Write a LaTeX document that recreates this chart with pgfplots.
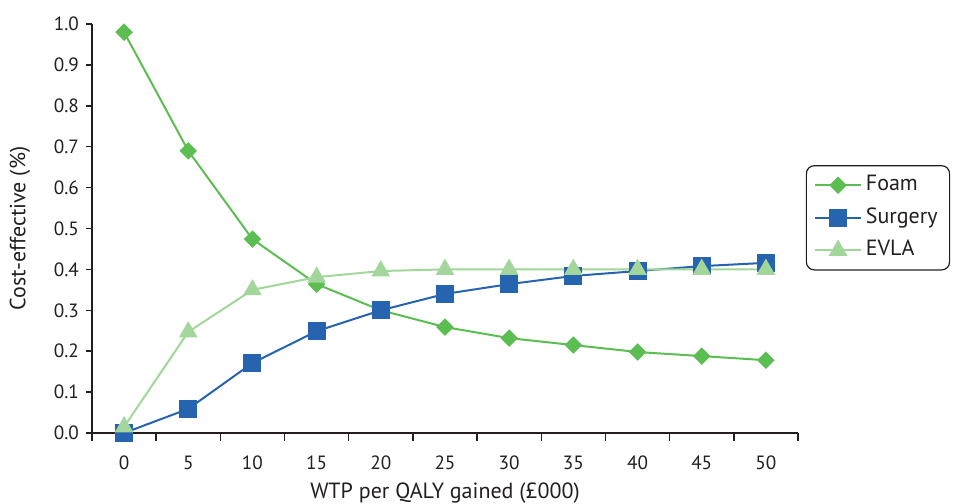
\documentclass[border=0pt]{standalone}
\usepackage{pgfplots}
\pgfplotsset{compat=1.18}
\usepackage{fontspec}
\setmainfont{PT Sans}
\definecolor{foam}{HTML}{5CBD53}
\definecolor{surg}{HTML}{2664AF}
\definecolor{evla}{HTML}{A2D69A}
\definecolor{axc}{HTML}{231F20}
\begin{document}
\begin{tikzpicture}
\begin{axis}[
  scale only axis, width=353pt, height=204.5pt,
  xmin=-0.5, xmax=10.5, ymin=0, ymax=1,
  axis x line=bottom, axis y line=left,
  axis line style={-, axc, line width=0.75pt},
  every tick/.style={axc, line width=0.75pt},
  tick align=outside,
  xtick={0,...,10},
  xticklabels={0,5,10,15,20,25,30,35,40,45,50},
  major x tick style={draw=none},
  minor xtick={-0.5,0.5,...,10.5},
  minor tick length=4pt,
  major tick length=3pt,
  ytick={0,0.1,...,1.0},
  yticklabel style={/pgf/number format/.cd, fixed, fixed zerofill, precision=1},
  /pgf/number format/assume math mode=true,
  xticklabel style={yshift=-5pt},
  tick label style={font=\fontsize{9.6}{11}\selectfont, text=axc},
  xlabel={WTP per QALY gained (£000)},
  ylabel={Cost-effective (\%)},
  label style={font=\fontsize{11}{13}\selectfont, text=axc},
  xlabel style={at={(axis description cs:0.5,-0.159)}, anchor=base},
  ylabel style={at={(axis description cs:-0.102,0.5)}, anchor=center},
  clip=false,
  legend style={at={(1.011,0.655)}, anchor=north west, draw=axc, line width=0.6pt,
    rounded corners=4pt, font=\fontsize{11}{13}\selectfont, text=axc,
    row sep=3.8pt, inner xsep=4pt, inner ysep=3.5pt,
    nodes={text height=8pt, text depth=2.5pt, inner ysep=1pt, inner xsep=2pt}},
  legend cell align=left,
  legend image code/.code={\draw[#1, mark repeat=2, mark phase=2] plot coordinates {(0cm,0cm) (0.4cm,0cm) (0.8cm,0cm)};},
]
\addplot[color=foam, line width=1pt, mark=square*, mark size=2.6pt, mark options={rotate=45, fill=foam, draw=foam}]
 coordinates {(0,0.98) (1,0.69) (2,0.474) (3,0.364) (4,0.30) (5,0.259) (6,0.232) (7,0.215) (8,0.198) (9,0.188) (10,0.178)};
\addlegendentry{Foam}
\addplot[color=surg, line width=1pt, mark=square*, mark size=4pt, mark options={fill=surg, draw=surg}]
 coordinates {(0,0.0) (1,0.059) (2,0.171) (3,0.249) (4,0.30) (5,0.34) (6,0.364) (7,0.384) (8,0.396) (9,0.408) (10,0.416)};
\addlegendentry{Surgery}
\addplot[color=evla, line width=1pt, mark=triangle*, mark size=4.4pt, mark options={fill=evla, draw=evla}]
 coordinates {(0,0.015) (1,0.247) (2,0.35) (3,0.381) (4,0.396) (5,0.40) (6,0.40) (7,0.40) (8,0.40) (9,0.40) (10,0.40)};
\addlegendentry{EVLA}
\coordinate (bbl) at (rel axis cs:-0.1303,-0.1736);
\coordinate (btr) at (rel axis cs:1.2224,1.0587);
\end{axis}
\pgfresetboundingbox
\path[use as bounding box] (bbl) rectangle (btr);
\end{tikzpicture}
\end{document}
